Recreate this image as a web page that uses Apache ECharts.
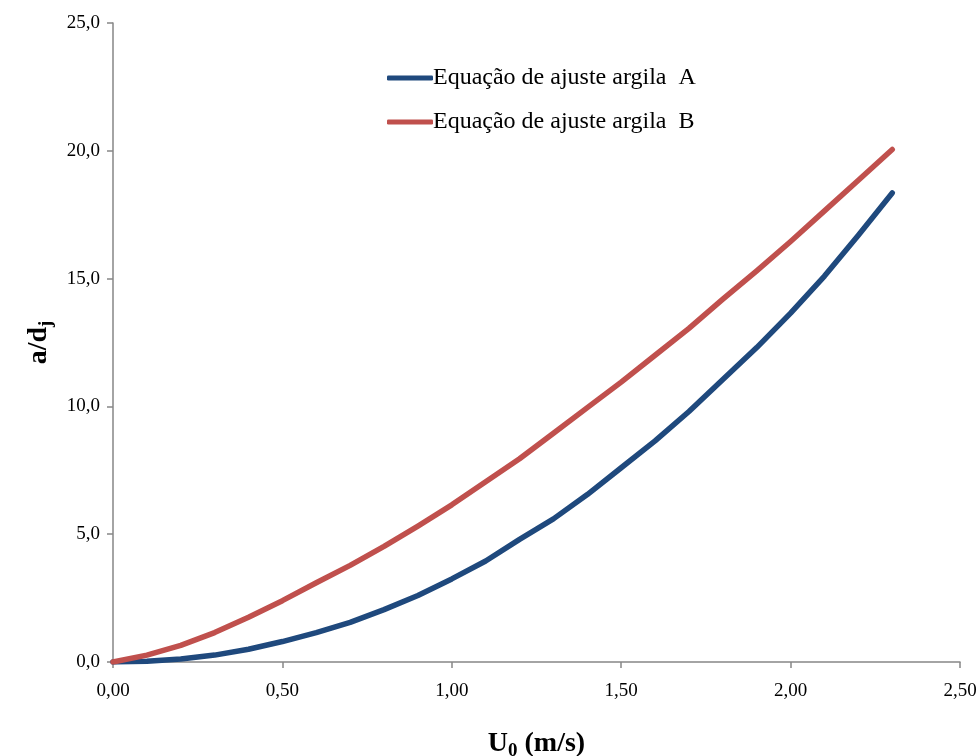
<!DOCTYPE html>
<html>
<head>
<meta charset="utf-8">
<script src="https://cdn.jsdelivr.net/npm/echarts@6/dist/echarts.min.js"></script>
<style>
  html, body { margin: 0; padding: 0; background: #fff; }
  #chart { width: 980px; height: 756px; }
</style>
</head>
<body>
<div id="chart"></div>
<script>
// Flow velocity U0 (m/s)
const velocity = [0.0, 0.1, 0.2, 0.3, 0.4, 0.5, 0.6, 0.7, 0.8, 0.9, 1.0, 1.1,
                  1.2, 1.3, 1.4, 1.5, 1.6, 1.7, 1.8, 1.9, 2.0, 2.1, 2.2, 2.3];

// a/dj from the fitted equation, clay A
const clayA = [0.0, 0.03, 0.12, 0.27, 0.5, 0.8, 1.15, 1.55, 2.05, 2.6, 3.25, 3.95,
               4.8, 5.6, 6.55, 7.6, 8.65, 9.8, 11.05, 12.3, 13.65, 15.1, 16.7, 18.35];

// a/dj from the fitted equation, clay B
const clayB = [0.0, 0.27, 0.65, 1.15, 1.75, 2.4, 3.1, 3.78, 4.52, 5.32, 6.15, 7.05,
               7.95, 8.95, 9.95, 10.95, 12.0, 13.05, 14.2, 15.3, 16.45, 17.65, 18.85, 20.05];

const seriesNames = ['Equação de ajuste argila  A', 'Equação de ajuste argila  B'];

const pairs = (xs, ys) => xs.map((x, i) => [x, ys[i]]);
const comma = (v, d) => v.toFixed(d).replace('.', ',');

const FONT = '"Liberation Serif", "Times New Roman", serif';
const axisGray = '#868686';

const chart = echarts.init(document.getElementById('chart'));
chart.setOption({
  animation: false,
  backgroundColor: '#ffffff',
  textStyle: { fontFamily: FONT },
  grid: { left: 113, right: 20, top: 23, bottom: 94, containLabel: false, outerBoundsMode: 'none' },
  legend: {
    orient: 'vertical',
    left: 382,
    top: 61,
    itemWidth: 46,
    itemHeight: 5,
    itemGap: 20,
    icon: 'roundRect',
    textStyle: { fontFamily: FONT, fontSize: 24, color: '#000', padding: [0, 0, 0, -5] },
    data: seriesNames
  },
  xAxis: {
    type: 'value',
    min: 0,
    max: 2.5,
    interval: 0.5,
    name: '{b|U}{s|0}{b| (m/s)}',
    nameLocation: 'middle',
    nameGap: 64,
    nameTextStyle: {
      rich: {
        b: { fontFamily: FONT, fontSize: 28, fontWeight: 'bold', color: '#000' },
        s: { fontFamily: FONT, fontSize: 19, fontWeight: 'bold', color: '#000', padding: [16, 0, 0, 0] }
      }
    },
    splitLine: { show: false },
    axisLine: { lineStyle: { color: axisGray, width: 1.5 } },
    axisTick: { show: true, inside: false, length: 6, lineStyle: { color: axisGray, width: 1.5 } },
    axisLabel: {
      fontFamily: FONT, fontSize: 19, color: '#000', margin: 20,
      formatter: v => comma(v, 2)
    }
  },
  yAxis: {
    type: 'value',
    min: 0,
    max: 25,
    interval: 5,
    name: '{b|a/d}{s|j}',
    nameLocation: 'middle',
    nameGap: 56,
    nameRotate: 90,
    nameTextStyle: {
      rich: {
        b: { fontFamily: FONT, fontSize: 28, fontWeight: 'bold', color: '#000' },
        s: { fontFamily: FONT, fontSize: 19, fontWeight: 'bold', color: '#000', padding: [16, 0, 0, 0] }
      }
    },
    splitLine: { show: false },
    axisLine: { show: true, lineStyle: { color: axisGray, width: 1.5 } },
    axisTick: { show: true, inside: false, length: 6, lineStyle: { color: axisGray, width: 1.5 } },
    axisLabel: {
      fontFamily: FONT, fontSize: 19, color: '#000', margin: 13,
      formatter: v => comma(v, 1)
    }
  },
  series: [
    {
      name: seriesNames[0],
      type: 'line',
      data: pairs(velocity, clayA),
      showSymbol: false,
      symbol: 'none',
      color: '#1F497D',
      lineStyle: { width: 5.5, color: '#1F497D', cap: 'round', join: 'round' }
    },
    {
      name: seriesNames[1],
      type: 'line',
      data: pairs(velocity, clayB),
      showSymbol: false,
      symbol: 'none',
      color: '#C0504D',
      lineStyle: { width: 5.5, color: '#C0504D', cap: 'round', join: 'round' }
    }
  ]
});
</script>
</body>
</html>
